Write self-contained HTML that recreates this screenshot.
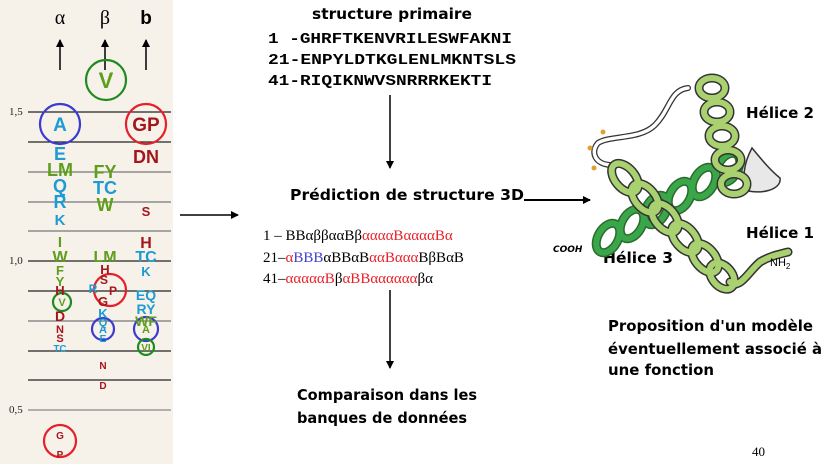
<!DOCTYPE html>
<html><head><meta charset="utf-8"><style>
html,body{margin:0;padding:0;background:#fff;}
svg{display:block}
.c{font-family:"DejaVu Sans",sans-serif;font-weight:bold;fill:#000}
.L{font-family:"Liberation Sans",sans-serif;font-weight:bold;text-anchor:middle}
.bl{fill:#1e9bd2}.gr{fill:#5e9e1c}.rd{fill:#a3161c}
</style></head><body>
<svg width="828" height="464" viewBox="0 0 828 464" xmlns="http://www.w3.org/2000/svg">
<defs><marker id="ah" markerWidth="8" markerHeight="8" refX="7" refY="4" orient="auto" markerUnits="userSpaceOnUse"><path d="M0,0 L8,4 L0,8z" fill="#000"/></marker></defs>
<rect x="0" y="0" width="173" height="464" fill="#f6f2ea"/>
<g stroke="#222" stroke-width="1.3">
<line x1="28" y1="112" x2="171" y2="112"/><line x1="28" y1="142" x2="171" y2="142"/>
<line x1="28" y1="172" x2="171" y2="172" stroke="#777"/><line x1="28" y1="202" x2="171" y2="202" stroke="#777"/>
<line x1="28" y1="231" x2="171" y2="231" stroke="#777"/><line x1="28" y1="261" x2="171" y2="261"/>
<line x1="28" y1="291" x2="171" y2="291"/><line x1="28" y1="321" x2="171" y2="321" stroke="#777"/>
<line x1="28" y1="351" x2="171" y2="351"/><line x1="28" y1="380" x2="171" y2="380"/>
<line x1="28" y1="410" x2="171" y2="410" stroke="#888"/>
</g>
<g font-family="Liberation Serif" font-size="11" fill="#222">
<text x="9" y="115">1,5</text><text x="9" y="264">1,0</text><text x="9" y="413">0,5</text></g>
<text x="60" y="24" font-family="Liberation Serif" font-size="20" text-anchor="middle">α</text>
<text x="105" y="24" font-family="Liberation Serif" font-size="20" text-anchor="middle">β</text>
<text x="146" y="24" font-family="Liberation Sans" font-weight="bold" font-size="19" text-anchor="middle">b</text>
<g stroke="#000" stroke-width="1.5">
<line x1="60" y1="70" x2="60" y2="40" marker-end="url(#ah)"/>
<line x1="105" y1="70" x2="105" y2="40" marker-end="url(#ah)"/>
<line x1="146" y1="70" x2="146" y2="40" marker-end="url(#ah)"/></g>
<g fill="none" stroke-width="2.2">
<circle cx="106" cy="80" r="20" stroke="#1f8b1f"/>
<circle cx="60" cy="124" r="20" stroke="#3b3bd0"/>
<circle cx="146" cy="124" r="20" stroke="#e6202a"/>
<circle cx="62" cy="302" r="9" stroke="#1f8b1f"/>
<circle cx="110" cy="290" r="16" stroke="#e6202a"/>
<circle cx="103" cy="329" r="11" stroke="#3b3bd0"/>
<circle cx="146" cy="329" r="12" stroke="#3b3bd0"/>
<circle cx="146" cy="347" r="8" stroke="#1f8b1f"/>
<circle cx="60" cy="441" r="16" stroke="#e6202a"/>
</g>
<g class="L">
<text x="106" y="88" font-size="22" class="gr">V</text>
<text x="60" y="131" font-size="19" class="bl">A</text>
<text x="146" y="131" font-size="19" class="rd">GP</text>
<text x="60" y="160" font-size="18" class="bl">E</text>
<text x="146" y="163" font-size="18" class="rd">DN</text>
<text x="60" y="176" font-size="18" class="gr">LM</text>
<text x="105" y="178" font-size="18" class="gr">FY</text>
<text x="60" y="192" font-size="18" class="bl">Q</text>
<text x="105" y="194" font-size="18" class="bl">TC</text>
<text x="60" y="208" font-size="18" class="bl">R</text>
<text x="105" y="211" font-size="18" class="gr">W</text>
<text x="146" y="216" font-size="13" class="rd">S</text>
<text x="60" y="225" font-size="15" class="bl">K</text>
<text x="60" y="247" font-size="15" class="gr">I</text>
<text x="146" y="248" font-size="16" class="rd">H</text>
<text x="60" y="262" font-size="16" class="gr">W</text>
<text x="105" y="262" font-size="16" class="gr">LM</text>
<text x="146" y="262" font-size="16" class="bl">TC</text>
<text x="60" y="275" font-size="13" class="gr">F</text>
<text x="105" y="274" font-size="13" class="rd">H</text>
<text x="146" y="276" font-size="13" class="bl">K</text>
<text x="60" y="286" font-size="13" class="gr">Y</text>
<text x="104" y="284" font-size="12" class="rd">S</text>
<text x="93" y="293" font-size="12" class="bl">R</text>
<text x="113" y="295" font-size="12" class="rd">P</text>
<text x="60" y="295" font-size="13" class="rd">H</text>
<text x="146" y="300" font-size="14" class="bl">EQ</text>
<text x="62" y="306" font-size="11" class="gr">V</text>
<text x="103" y="306" font-size="13" class="rd">G</text>
<text x="146" y="314" font-size="14" class="bl">RY</text>
<text x="103" y="318" font-size="13" class="bl">K</text>
<text x="60" y="321" font-size="14" class="rd">D</text>
<text x="146" y="326" font-size="14" class="gr">WF</text>
<text x="103" y="326" font-size="11" class="bl">Q</text>
<text x="103" y="333" font-size="11" class="bl">A</text>
<text x="146" y="333" font-size="11" class="gr">A</text>
<text x="60" y="333" font-size="11" class="rd">N</text>
<text x="103" y="342" font-size="10" class="bl">E</text>
<text x="60" y="342" font-size="11" class="rd">S</text>
<text x="146" y="351" font-size="10" class="gr">VI</text>
<text x="60" y="352" font-size="10" class="bl">TC</text>
<text x="103" y="369" font-size="10" class="rd">N</text>
<text x="103" y="389" font-size="10" class="rd">D</text>
<text x="60" y="439" font-size="10" class="rd">G</text>
<text x="60" y="458" font-size="10" class="rd">P</text>
</g>
<text x="312" y="19" class="c" font-size="15" textLength="160" lengthAdjust="spacingAndGlyphs">structure primaire</text>
<g font-family="Liberation Mono" font-weight="bold" font-size="15">
<text x="268" y="43" textLength="244" lengthAdjust="spacingAndGlyphs">1 -GHRFTKENVRILESWFAKNI</text>
<text x="268" y="64" textLength="248" lengthAdjust="spacingAndGlyphs">21-ENPYLDTKGLENLMKNTSLS</text>
<text x="268" y="85" textLength="224" lengthAdjust="spacingAndGlyphs">41-RIQIKNWVSNRRRKEKTI</text></g>
<g stroke="#000" stroke-width="1.5">
<line x1="390" y1="95" x2="390" y2="168" marker-end="url(#ah)"/>
<line x1="390" y1="290" x2="390" y2="368" marker-end="url(#ah)"/>
<line x1="180" y1="215" x2="238" y2="215" marker-end="url(#ah)"/>
<line x1="524" y1="200" x2="590" y2="200" marker-end="url(#ah)" stroke-width="2"/>
</g>
<text x="290" y="200" class="c" font-size="15" textLength="234" lengthAdjust="spacingAndGlyphs">Prédiction de structure 3D</text>
<g font-family="Liberation Serif" font-size="15">
<text x="263" y="240">1 – BBαββααBβ<tspan fill="#e8202a">ααααBααααBα</tspan></text>
<text x="263" y="262">21–<tspan fill="#e8202a">α</tspan><tspan fill="#4040d0">BBB</tspan>αBBαB<tspan fill="#e8202a">ααBααα</tspan>BβBαB</text>
<text x="263" y="283">41–<tspan fill="#e8202a">αααααB</tspan>β<tspan fill="#e8202a">αBBαααααα</tspan>βα</text>
</g>
<g class="c" font-size="15">
<text x="297" y="400" textLength="180" lengthAdjust="spacingAndGlyphs">Comparaison dans les</text>
<text x="297" y="423" textLength="170" lengthAdjust="spacingAndGlyphs">banques de données</text>
<text x="608" y="331" textLength="205" lengthAdjust="spacingAndGlyphs">Proposition d'un modèle</text>
<text x="608" y="354" textLength="214" lengthAdjust="spacingAndGlyphs">éventuellement associé à</text>
<text x="608" y="375" textLength="106" lengthAdjust="spacingAndGlyphs">une fonction</text>
<text x="746" y="118" textLength="68" lengthAdjust="spacingAndGlyphs">Hélice 2</text>
<text x="746" y="238" textLength="68" lengthAdjust="spacingAndGlyphs">Hélice 1</text>
<text x="603" y="263" textLength="70" lengthAdjust="spacingAndGlyphs">Hélice 3</text>
</g>
<text x="752" y="456" font-family="Liberation Serif" font-size="13">40</text>
<g fill="none" stroke-linecap="round">
<path d="M688,88 C670,90 670,110 655,125 C640,140 610,135 598,143 C590,152 595,165 612,165" stroke="#333" stroke-width="6"/>
<path d="M688,88 C670,90 670,110 655,125 C640,140 610,135 598,143 C590,152 595,165 612,165" stroke="#fff" stroke-width="3.5"/>
<path d="M745,190 C760,195 782,190 780,178 C770,170 762,160 752,148 C740,170 745,185 745,190z" fill="#e8e8e8" stroke="#333" stroke-width="1.5"/>
<g stroke="#2a6a2a" stroke-width="9">
<ellipse cx="608" cy="238" rx="10" ry="16" transform="rotate(30 608 238)"/>
<ellipse cx="632" cy="224" rx="10" ry="16" transform="rotate(30 632 224)"/>
<ellipse cx="656" cy="210" rx="10" ry="16" transform="rotate(30 656 210)"/>
<ellipse cx="680" cy="196" rx="10" ry="16" transform="rotate(30 680 196)"/>
<ellipse cx="704" cy="182" rx="10" ry="16" transform="rotate(30 704 182)"/>
<ellipse cx="728" cy="168" rx="10" ry="16" transform="rotate(30 728 168)"/>
</g>
<g stroke="#3aa64a" stroke-width="6">
<ellipse cx="608" cy="238" rx="10" ry="16" transform="rotate(30 608 238)"/>
<ellipse cx="632" cy="224" rx="10" ry="16" transform="rotate(30 632 224)"/>
<ellipse cx="656" cy="210" rx="10" ry="16" transform="rotate(30 656 210)"/>
<ellipse cx="680" cy="196" rx="10" ry="16" transform="rotate(30 680 196)"/>
<ellipse cx="704" cy="182" rx="10" ry="16" transform="rotate(30 704 182)"/>
<ellipse cx="728" cy="168" rx="10" ry="16" transform="rotate(30 728 168)"/>
</g>
<g stroke="#333" stroke-width="9">
<ellipse cx="712" cy="88" rx="13" ry="10"/>
<ellipse cx="717" cy="112" rx="13" ry="10"/>
<ellipse cx="722" cy="136" rx="13" ry="10"/>
<ellipse cx="728" cy="160" rx="13" ry="10"/>
<ellipse cx="734" cy="184" rx="13" ry="10"/>
<ellipse cx="625" cy="178" rx="10" ry="17" transform="rotate(-40 625 178)"/>
<ellipse cx="645" cy="198" rx="10" ry="17" transform="rotate(-40 645 198)"/>
<ellipse cx="665" cy="218" rx="10" ry="17" transform="rotate(-40 665 218)"/>
<ellipse cx="685" cy="238" rx="10" ry="17" transform="rotate(-40 685 238)"/>
<ellipse cx="705" cy="258" rx="10" ry="17" transform="rotate(-40 705 258)"/>
<ellipse cx="722" cy="276" rx="10" ry="15" transform="rotate(-40 722 276)"/>
<path d="M730,282 C740,290 748,272 760,262 C770,256 780,254 788,252"/>
</g>
<g stroke="#a9d16f" stroke-width="6">
<ellipse cx="712" cy="88" rx="13" ry="10"/>
<ellipse cx="717" cy="112" rx="13" ry="10"/>
<ellipse cx="722" cy="136" rx="13" ry="10"/>
<ellipse cx="728" cy="160" rx="13" ry="10"/>
<ellipse cx="734" cy="184" rx="13" ry="10"/>
<ellipse cx="625" cy="178" rx="10" ry="17" transform="rotate(-40 625 178)"/>
<ellipse cx="645" cy="198" rx="10" ry="17" transform="rotate(-40 645 198)"/>
<ellipse cx="665" cy="218" rx="10" ry="17" transform="rotate(-40 665 218)"/>
<ellipse cx="685" cy="238" rx="10" ry="17" transform="rotate(-40 685 238)"/>
<ellipse cx="705" cy="258" rx="10" ry="17" transform="rotate(-40 705 258)"/>
<ellipse cx="722" cy="276" rx="10" ry="15" transform="rotate(-40 722 276)"/>
<path d="M730,282 C740,290 748,272 760,262 C770,256 780,254 788,252"/>
</g>
</g>
<g fill="#e0a030"><circle cx="603" cy="132" r="2.5"/><circle cx="590" cy="148" r="2.5"/><circle cx="594" cy="168" r="2.5"/></g>
<text x="553" y="252" font-family="DejaVu Sans" font-size="9" font-weight="bold" font-style="italic">COOH</text>
<text x="770" y="266" font-family="Liberation Sans" font-size="11">NH<tspan font-size="8" dy="3">2</tspan></text>
</svg>
</body></html>
